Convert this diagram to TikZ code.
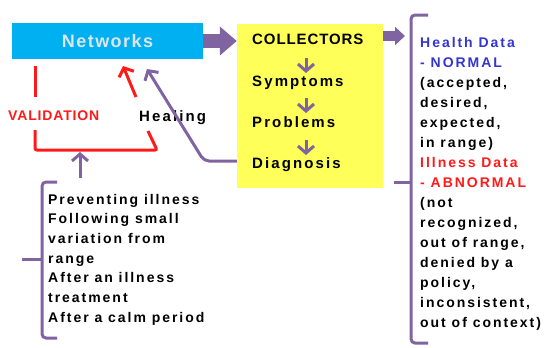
\documentclass[tikz,border=0pt]{standalone}
\usepackage{fontspec}
\setmainfont{Liberation Sans}
\newfontfamily\widesans[LetterSpace=14]{Liberation Sans}
\newfontfamily\capsans[LetterSpace=6]{Liberation Sans}
\newfontfamily\titlesans[LetterSpace=8]{Liberation Sans}
\usetikzlibrary{arrows.meta}
\definecolor{netblue}{HTML}{00B0F0}
\definecolor{nettext}{HTML}{DCE6EA}
\definecolor{flowpurple}{HTML}{8064A2}
\definecolor{padyellow}{HTML}{FFFF5A}
\definecolor{healthblue}{HTML}{3535D0}
\definecolor{alertred}{HTML}{FF1A1A}
\begin{document}
\begin{tikzpicture}[x=1bp,y=-1bp,
  body/.style={inner sep=0pt, font=\widesans\bfseries\fontsize{14bp}{20bp}\selectfont},
  item/.style={inner sep=0pt, anchor=base west, font=\widesans\bfseries\fontsize{15bp}{18bp}\selectfont},
  capsitem/.style={inner sep=0pt, anchor=base west, font=\capsans\bfseries\fontsize{15bp}{18bp}\selectfont},
  blockarrow/.style={draw=flowpurple, -{Triangle[length=#1]}},
  chevron/.style={line width=3bp, -{Straight Barb[length=7bp,width=16bp]}},
  bracket/.style={draw=flowpurple, line width=3bp, rounded corners=4bp},
  redline/.style={draw=alertred, line width=3bp}]
\useasboundingbox (0,0) rectangle (545,347);

% main boxes
\node[fill=netblue, minimum width=191bp, minimum height=36bp, inner sep=0pt,
      font=\titlesans\bfseries\fontsize{18bp}{20bp}\selectfont, text=nettext]
      (netw) at (107.5,41) {Networks};
\node[fill=padyellow, minimum width=146bp, minimum height=164bp, inner sep=0pt]
      (coll) at (310,106) {};

% collector chain
\node[capsitem] (ctitle) at (252,44) {COLLECTORS};
\node[item] (symp) at (252,86) {Symptoms};
\node[item] (prob) at (252,127) {Problems};
\node[item] (diag) at (252,168) {Diagnosis};
\coordinate (a1s) at (306,58);  \coordinate (a1e) at (306,73);
\coordinate (a2s) at (306,98);  \coordinate (a2e) at (306,113);
\coordinate (a3s) at (306,140); \coordinate (a3e) at (306,155);
\draw[chevron, flowpurple] (a1s) -- (a1e);
\draw[chevron, flowpurple] (a2s) -- (a2e);
\draw[chevron, flowpurple] (a3s) -- (a3e);

% wide arrows between the boxes
\draw[flowpurple, line width=14bp, -{Triangle[length=17bp,width=28bp]}]
  (netw.east) -- (netw.east -| coll.west);
\coordinate (outs) at (383,36);
\coordinate (oute) at (405,36);
\draw[flowpurple, line width=10bp, -{Triangle[length=10bp,width=18bp]}] (outs) -- (oute);

% data classification bracket and text
\coordinate (rb1) at (428,15);
\coordinate (rb2) at (411,15);
\coordinate (rb3) at (411,343);
\coordinate (rb4) at (428,343);
\coordinate (rbt1) at (411,182);
\coordinate (rbt2) at (394,182);
\draw[bracket] (rb1) -- (rb2) -- (rb3) -- (rb4);
\draw[bracket] (rbt1) -- (rbt2);
\node[body, anchor=north west, align=left] (data) at (420,36.8)
  {\textcolor{healthblue}{Health Data}\\
   \textcolor{healthblue}{- NORMAL}\\
   (accepted,\\ desired,\\ expected,\\ in range)\\
   \textcolor{alertred}{Illness Data}\\
   \textcolor{alertred}{- ABNORMAL}\\
   (not\\ recognized,\\ out of range,\\ denied by a\\ policy,\\ inconsistent,\\ out of context)};

% validation loop
\node[capsitem, text=alertred, font=\capsans\bfseries\fontsize{14bp}{18bp}\selectfont]
  (valid) at (8,120) {VALIDATION};
\node[item] (heal) at (139,121) {Healing};
\coordinate (v1) at (35,66);
\coordinate (v2) at (35,97);
\coordinate (v3) at (35,130);
\coordinate (v4) at (35,150);
\coordinate (v5) at (157,150);
\coordinate (v6) at (148,131);
\draw[redline] (v1) -- (v2);
\draw[redline, rounded corners=2bp] (v3) -- (v4) -- (v5) -- (v6);
\coordinate (rtail) at (136,97);
\coordinate (rtip) at (123,66);
\draw[chevron, alertred] (rtail) -- (rtip);

% healing feedback from diagnosis
\coordinate (hbend) at (204,161);
\coordinate (htip) at (147,69);
\draw[chevron, flowpurple, rounded corners=5bp]
  (coll.west |- 0,161) -- (hbend) -- (htip);

% triggers bracket and text
\coordinate (lb1) at (57,182);
\coordinate (lb2) at (42,182);
\coordinate (lb3) at (42,338);
\coordinate (lb4) at (57,338);
\coordinate (lbt1) at (42,259);
\coordinate (lbt2) at (22,259);
\draw[bracket] (lb1) -- (lb2) -- (lb3) -- (lb4);
\draw[bracket] (lbt1) -- (lbt2);
\coordinate (upt) at (80,178);
\coordinate (uph) at (80,152);
\draw[chevron, flowpurple] (upt) -- (uph);
\node[body, anchor=north west, align=left,
      font=\widesans\bfseries\fontsize{14bp}{19.7bp}\selectfont] (trig) at (48,193.8)
  {Preventing illness\\ Following small\\ variation from\\ range\\
   After an illness\\ treatment\\ After a calm period};
\end{tikzpicture}
\end{document}
